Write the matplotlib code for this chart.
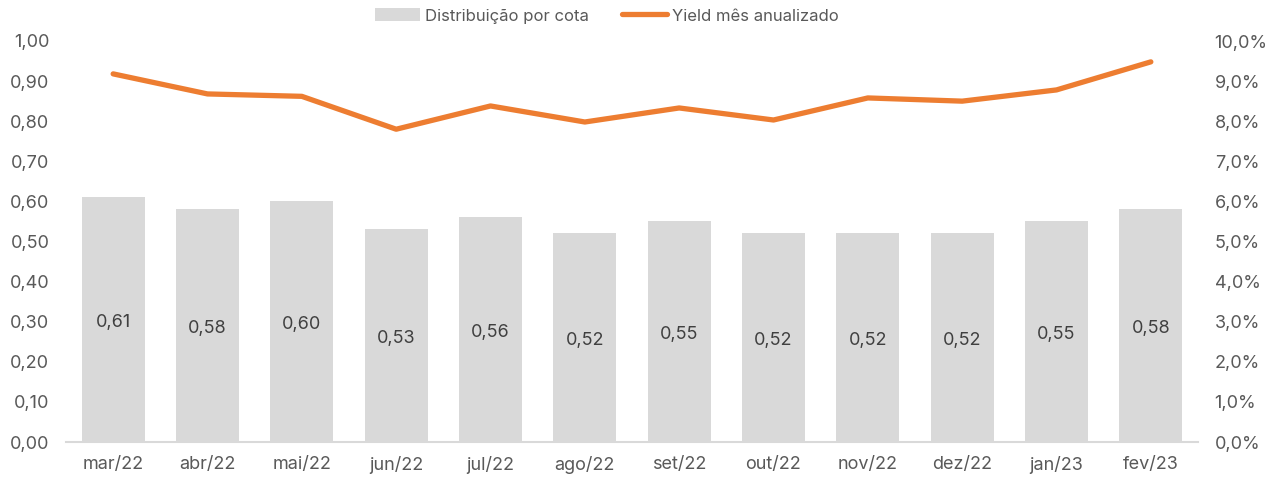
import matplotlib
matplotlib.use("Agg")
import matplotlib.pyplot as plt
from matplotlib.patches import Patch
from matplotlib.lines import Line2D
from matplotlib.ticker import FuncFormatter
from matplotlib.transforms import offset_copy

categories = ["mar/22", "abr/22", "mai/22", "jun/22", "jul/22", "ago/22",
              "set/22", "out/22", "nov/22", "dez/22", "jan/23", "fev/23"]
distribuicao = [0.61, 0.58, 0.60, 0.53, 0.56, 0.52, 0.55, 0.52, 0.52, 0.52, 0.55, 0.58]
yield_pct = [9.18, 8.68, 8.62, 7.80, 8.38, 7.98, 8.33, 8.03, 8.58, 8.50, 8.78, 9.48]

plt.rcParams['font.family'] = ['Inter', 'DejaVu Sans']
text_color = "#595959"
bar_color = "#D9D9D9"
line_color = "#ED7D31"

fig = plt.figure(figsize=(12.82, 4.78), dpi=100)
ax = fig.add_axes([66/1282, 1 - 442/478, (1198-66)/1282, (442-41)/478])
x = list(range(len(categories)))
ax.bar(x, distribuicao, width=0.67, color=bar_color, zorder=1)
lbl_tr = offset_copy(ax.transData, fig=fig, x=0, y=-3, units="dots")
for xi, v in zip(x, distribuicao):
    ax.text(xi, v / 2, f"{v:.2f}".replace(".", ","), ha="center", va="center",
            fontsize=13, color="#404040", transform=lbl_tr)
ax.set_xlim(-0.5, len(categories) - 0.5)
ax.set_ylim(0, 1.0)
ax.set_yticks([i / 10 for i in range(11)])
ax.yaxis.set_major_formatter(FuncFormatter(lambda v, p: f"{v:.2f}".replace(".", ",")))
ax.set_xticks(x)
ax.set_xticklabels(categories)
for s in ["top", "right", "left"]:
    ax.spines[s].set_visible(False)
ax.spines["bottom"].set_color("#D9D9D9")
ax.spines["bottom"].set_linewidth(1.5)
ax.tick_params(axis="both", length=0, labelsize=13, colors=text_color)
ax.tick_params(axis="y", pad=12)
ax.tick_params(axis="x", pad=10)

ax2 = ax.twinx()
ax2.plot(x, yield_pct, color=line_color, linewidth=3.8, solid_capstyle="round", zorder=3)
ax2.set_ylim(0, 10)
ax2.set_yticks(range(11))
ax2.yaxis.set_major_formatter(FuncFormatter(lambda v, p: f"{v:.1f}%".replace(".", ",")))
for s in ["top", "right", "left", "bottom"]:
    ax2.spines[s].set_visible(False)
ax2.tick_params(axis="y", length=0, labelsize=13, colors=text_color, pad=12)

handles = [Patch(facecolor=bar_color, edgecolor="none", label="Distribuição por cota"),
           Line2D([0], [0], color=line_color, linewidth=3.8, solid_capstyle="round",
                  label="Yield mês anualizado")]
fig.legend(handles=handles, loc="center", bbox_to_anchor=(607/1282, 1 - 16/478), ncol=2,
           frameon=False, fontsize=12, labelcolor=text_color, handlelength=2.7,
           handleheight=0.8, handletextpad=0.3, columnspacing=2.0)

fig.savefig("out.png", dpi=100)
